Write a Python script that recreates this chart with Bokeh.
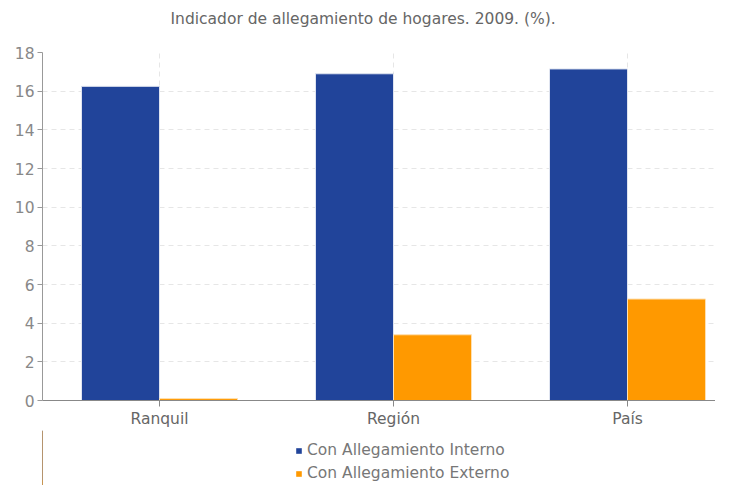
from bokeh.plotting import figure
from bokeh.layouts import column
from bokeh.models import ColumnDataSource, Range1d, FixedTicker, Legend, LegendItem, Title
from bokeh.transform import dodge
from bokeh.embed import file_html
from bokeh.resources import INLINE

categories = ["Ranquil", "Región", "País"]
interno = [16.25, 16.9, 17.15]
externo = [0.1, 3.4, 5.25]
y_ticks = [0, 2, 4, 6, 8, 10, 12, 14, 16, 18]
title_text = "Indicador de allegamiento de hogares. 2009. (%)."
series_names = ["Con Allegamiento Interno", "Con Allegamiento Externo"]

FONT = "DejaVu Sans"
FS = "15.5px"
BLUE = "#21449a"
ORANGE = "#ff9900"

src = ColumnDataSource(dict(idx=list(range(len(categories))), interno=interno, externo=externo))

p = figure(frame_width=673, frame_height=348, output_backend="svg", toolbar_location=None,
           x_range=Range1d(-0.5, 2.376), y_range=Range1d(0, 18),
           min_border_left=42, min_border_right=0, min_border_top=52, min_border_bottom=30)

# spacer between title and plot frame
p.add_layout(Title(text=" ", text_font=FONT, text_font_size=FS, standoff=5), "above")

p.title.text = title_text
p.title.align = "left"
p.title.offset = 128
p.title.vertical_align = "bottom"
p.title.standoff = 0
p.title.text_font = FONT
p.title.text_font_size = FS
p.title.text_font_style = "normal"
p.title.text_color = "#666666"

r1 = p.vbar(x=dodge("idx", -1/6, range=p.x_range), top="interno", width=1/3, source=src,
            fill_color=BLUE, line_color="#dfe4f0", line_width=1)
r2 = p.vbar(x=dodge("idx", 1/6, range=p.x_range), top="externo", width=1/3, source=src,
            fill_color=ORANGE, line_color="#ffe0b0", line_width=1)

p.outline_line_color = None
p.background_fill_color = "white"
p.border_fill_color = "white"

# x axis
p.xaxis.ticker = FixedTicker(ticks=list(range(len(categories))))
p.xaxis.major_label_overrides = {i: c for i, c in enumerate(categories)}
p.xaxis.axis_line_color = "#888888"
p.xaxis.major_tick_line_color = "#888888"
p.xaxis.major_tick_out = 6
p.xaxis.major_tick_in = 0
p.xaxis.minor_tick_line_color = None
p.xaxis.major_label_text_font = FONT
p.xaxis.major_label_text_font_size = FS
p.xaxis.major_label_text_color = "#666666"
p.xaxis.major_label_standoff = 3

# y axis
p.yaxis.ticker = FixedTicker(ticks=y_ticks)
p.yaxis.axis_line_color = "#999999"
p.yaxis.major_tick_line_color = "#999999"
p.yaxis.major_tick_out = 5
p.yaxis.major_tick_in = 0
p.yaxis.minor_tick_line_color = None
p.yaxis.major_label_text_font = FONT
p.yaxis.major_label_text_font_size = FS
p.yaxis.major_label_text_color = "#888888"
p.yaxis.major_label_standoff = 3

# grids
p.xgrid.grid_line_color = "#e6e6e6"
p.xgrid.grid_line_dash = "5 4"
p.ygrid.grid_line_color = "#e6e6e6"
p.ygrid.grid_line_dash = "5 4"

# legend strip: a second, axis-less figure whose bars lie outside its view
leg_fig = figure(width=715, height=55, output_backend="svg", toolbar_location=None,
                 x_range=Range1d(100, 101), y_range=Range1d(0, 1),
                 min_border_left=0, min_border_right=0, min_border_top=0, min_border_bottom=0)
leg_fig.axis.visible = False
leg_fig.grid.visible = False
leg_fig.outline_line_color = None
leg_fig.background_fill_color = "white"
leg_fig.border_fill_color = "white"
lr1 = leg_fig.vbar(x="idx", top="interno", width=1/3, source=src, fill_color=BLUE, line_color=None)
lr2 = leg_fig.vbar(x="idx", top="externo", width=1/3, source=src, fill_color=ORANGE, line_color=None)

legend = Legend(items=[LegendItem(label=series_names[0], renderers=[lr1]),
                       LegendItem(label=series_names[1], renderers=[lr2])],
                location=(253, 2), orientation="vertical")
legend.glyph_width = 7
legend.glyph_height = 7
legend.label_text_font = FONT
legend.label_text_font_size = FS
legend.label_text_color = "#777777"
legend.label_height = 20
legend.spacing = 3
legend.padding = 2
legend.margin = 0
legend.border_line_color = None
legend.background_fill_alpha = 0
leg_fig.add_layout(legend, "center")

layout = column(p, leg_fig, spacing=0)

open("out.html", "w").write(file_html(layout, INLINE))
